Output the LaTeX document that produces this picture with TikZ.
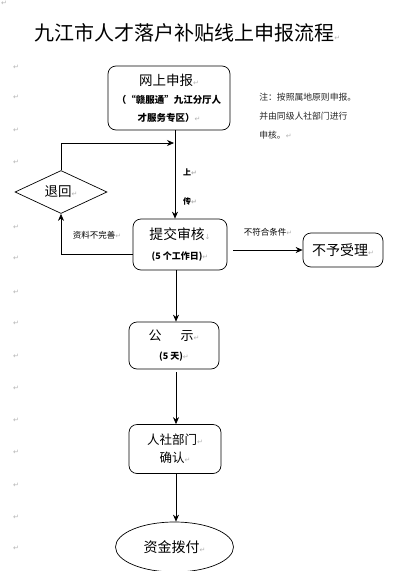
\documentclass[tikz,border=0pt]{standalone}
\usepackage{fontspec}
\setmainfont{Noto Sans CJK SC}
\newfontfamily\dvfont{DejaVu Sans}
\usetikzlibrary{shapes.geometric,arrows.meta}
\newcommand\parmk{{\dvfont\color{black!30}\fontsize{7}{8}\selectfont ↵}}
\newcommand\fsz[2]{\fontsize{#1}{#2}\selectfont}
\begin{document}
\begin{tikzpicture}[x=1pt,y=-1pt,
  line width=0.7pt,
  box/.style={draw, rounded corners=8pt, inner sep=0pt, align=center},
  arr/.style={-{Stealth[length=7pt,width=6pt]}},
  lbl/.style={inner sep=0pt},
  mk/.style={inner sep=0pt}]
\useasboundingbox (0,0) rectangle (400,571);
% margin paragraph marks
\node[mk] (m0) at (4,3) {\parmk};
\foreach \yy [count=\i] in {67,97,130,162,227,258,292,323,356,388,420,452,485,517,548}
  \node[mk] (m\i) at (16,\yy) {\parmk};
% title
\node[lbl, anchor=west] (title) at (34,33) {\fsz{20}{24}九江市人才落户补贴线上申报流程\parmk};
% boxes
\node[box, minimum width=122, minimum height=64, font=\fsz{13.5}{18}] (b1) at (169,98)
  {网上申报\parmk\\
   {\fsz{9.5}{18}\bfseries （“赣服通”九江分厅人}\\ {\fsz{9.5}{18}\bfseries 才服务专区）}\parmk};
\node[lbl, anchor=west, align=left, font=\fsz{8.8}{19}, text=black!85] (note) at (259,116)
  {注：按照属地原则申报。\\并由同级人社部门进行\\申核。\parmk};
\node[draw, diamond, aspect=2.2, minimum width=92, minimum height=43, inner sep=0pt, font=\fsz{13.5}{16}] (d) at (61,192)
  {退回\parmk};
\node[box, minimum width=94, minimum height=51, font=\fsz{13.8}{20}] (b2) at (180,244.5)
  {提交审核{\dvfont\color{black!30}\fontsize{7}{8}\selectfont ↓}\\
   {\fsz{9}{14}\bfseries (5 个工作日)}\parmk};
\node[box, minimum width=80, minimum height=34, font=\fsz{14}{16}] (nr) at (343,250)
  {不予受理\parmk};
\node[box, minimum width=90, minimum height=47, font=\fsz{13}{19}] (gs) at (174,345.5)
  {公\hspace{19pt}示\parmk\\ {\fsz{9}{14}\bfseries (5 天)}\parmk};
\node[box, minimum width=92, minimum height=49, font=\fsz{12.5}{18}] (rs) at (175,449)
  {人社部门\parmk\\ 确认\parmk};
\node[draw, ellipse, minimum width=118, minimum height=50, inner sep=0pt, font=\fsz{14}{16}] (zj) at (174.5,547)
  {资金拨付\parmk};
% connectors
\coordinate (vx) at (175,0);
\coordinate (lx) at (176,0);
\coordinate (loop) at (174,143);
\draw[arr] (b1.south -| vx) -- (b2.north -| vx);
\draw[arr] (d.north) |- (loop);
\draw[arr] ([yshift=-10pt]b2.west) -| (d.south);
\draw[arr] ([xshift=6pt]b2.east |- nr.west) -- (nr.west);
\draw[arr] (b2.south -| lx) -- (gs.north -| lx);
\draw[arr] ([yshift=-3pt]gs.south -| lx) -- (rs.north -| lx);
\draw[arr] (rs.south -| lx) -- (zj.north -| lx);
% labels
\node[lbl, font=\fsz{8}{10}\bfseries] (up1) at (190,172) {上\parmk};
\node[lbl, font=\fsz{8}{10}\bfseries] (up2) at (190,201) {传\parmk};
\node[lbl, font=\fsz{8.5}{10}] (l1) at (97,235) {资料不完善\parmk};
\node[lbl, font=\fsz{8.5}{10}] (l2) at (268,232) {不符合条件\parmk};
\end{tikzpicture}
\end{document}
